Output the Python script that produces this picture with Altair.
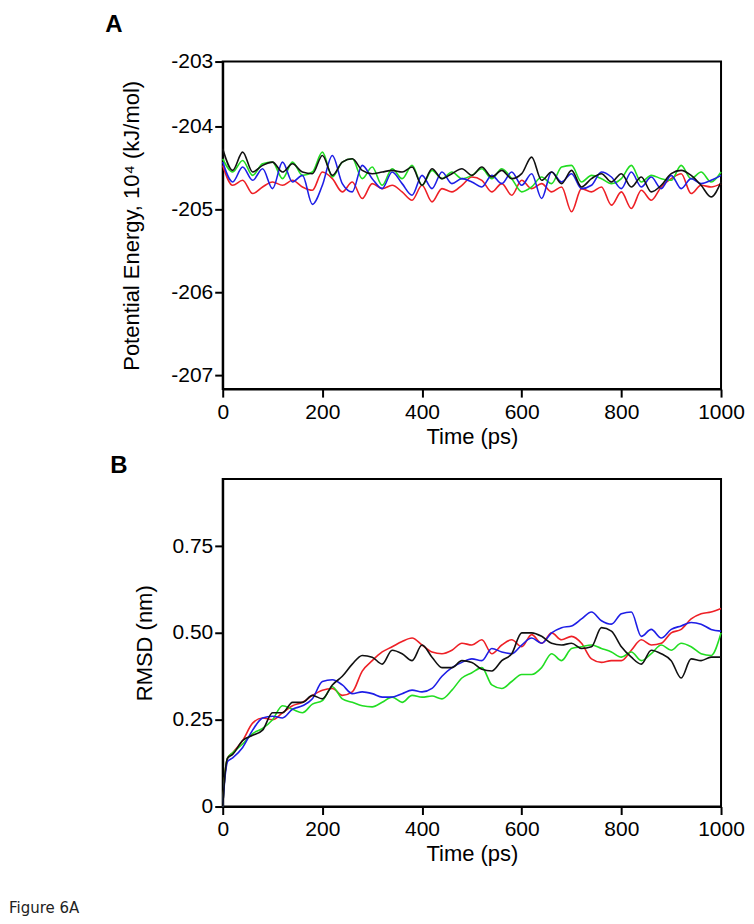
import altair as alt
import pandas as pd

# ---------------- data ----------------
runs = ["red", "green", "blue", "black"]
run_colors = ["#ee2026", "#22dd22", "#1e1ee6", "#111111"]

time_a = list(range(0, 1001, 20))
pe_red = [-204.47, -204.71, -204.65, -204.81, -204.73, -204.67, -204.71, -204.65, -204.73, -204.77,
          -204.55, -204.63, -204.79, -204.67, -204.87, -204.69, -204.75, -204.71, -204.79, -204.89,
          -204.71, -204.91, -204.75, -204.79, -204.71, -204.61, -204.65, -204.79, -204.69, -204.83,
          -204.65, -204.75, -204.69, -204.79, -204.73, -205.03, -204.75, -204.79, -204.73, -204.95,
          -204.79, -204.99, -204.77, -204.89, -204.73, -204.63, -204.57, -204.81, -204.71, -204.73,
          -204.69]
pe_green = [-204.39, -204.55, -204.41, -204.59, -204.45, -204.43, -204.63, -204.43, -204.59, -204.55,
            -204.31, -204.61, -204.43, -204.39, -204.63, -204.49, -204.71, -204.51, -204.63, -204.47,
            -204.71, -204.53, -204.63, -204.55, -204.63, -204.59, -204.51, -204.63, -204.51, -204.63,
            -204.79, -204.73, -204.61, -204.69, -204.49, -204.47, -204.67, -204.59, -204.63, -204.69,
            -204.63, -204.47, -204.67, -204.59, -204.63, -204.65, -204.47, -204.63, -204.55, -204.67,
            -204.55]
pe_blue = [-204.43, -204.67, -204.49, -204.65, -204.51, -204.75, -204.43, -204.67, -204.59, -204.94,
           -204.71, -204.35, -204.69, -204.79, -204.47, -204.63, -204.75, -204.55, -204.69, -204.83,
           -204.59, -204.75, -204.55, -204.69, -204.63, -204.67, -204.73, -204.59, -204.69, -204.55,
           -204.71, -204.57, -204.87, -204.55, -204.67, -204.57, -204.75, -204.71, -204.55, -204.61,
           -204.75, -204.55, -204.73, -204.61, -204.75, -204.59, -204.75, -204.63, -204.69, -204.65,
           -204.59]
pe_black = [-204.27, -204.53, -204.31, -204.55, -204.47, -204.43, -204.55, -204.45, -204.55, -204.57,
            -204.35, -204.59, -204.43, -204.39, -204.53, -204.57, -204.55, -204.53, -204.55, -204.49,
            -204.71, -204.51, -204.63, -204.57, -204.51, -204.59, -204.49, -204.61, -204.53, -204.63,
            -204.57, -204.37, -204.65, -204.55, -204.69, -204.53, -204.73, -204.63, -204.57, -204.67,
            -204.57, -204.73, -204.61, -204.79, -204.71, -204.57, -204.53, -204.59, -204.71, -204.85,
            -204.67]

time_b = [0, 5, 10] + list(range(20, 1001, 20))
rmsd_red = [0, 0.10, 0.14, 0.155, 0.19, 0.24, 0.255, 0.25, 0.27, 0.29, 0.30, 0.32, 0.335,
            0.34, 0.32, 0.33, 0.39, 0.42, 0.445, 0.46, 0.475, 0.485, 0.465,
            0.445, 0.44, 0.45, 0.47, 0.465, 0.48, 0.44, 0.465, 0.48, 0.46,
            0.495, 0.47, 0.50, 0.48, 0.49, 0.47, 0.425, 0.415, 0.42, 0.42,
            0.45, 0.48, 0.465, 0.47, 0.50, 0.51, 0.54, 0.555, 0.56, 0.57]
rmsd_green = [0, 0.10, 0.14, 0.155, 0.18, 0.21, 0.225, 0.25, 0.29, 0.28, 0.27, 0.295, 0.305,
              0.345, 0.31, 0.30, 0.29, 0.287, 0.30, 0.315, 0.30, 0.32, 0.315,
              0.318, 0.31, 0.335, 0.37, 0.385, 0.40, 0.35, 0.34, 0.36, 0.38,
              0.38, 0.40, 0.44, 0.42, 0.455, 0.46, 0.465, 0.455, 0.445, 0.43,
              0.445, 0.42, 0.44, 0.465, 0.45, 0.47, 0.46, 0.44, 0.435, 0.50]
rmsd_blue = [0, 0.09, 0.13, 0.14, 0.17, 0.22, 0.255, 0.26, 0.255, 0.28, 0.29, 0.31, 0.36,
             0.365, 0.35, 0.325, 0.33, 0.325, 0.315, 0.315, 0.325, 0.335, 0.33,
             0.34, 0.375, 0.40, 0.415, 0.425, 0.42, 0.455, 0.445, 0.44, 0.465,
             0.485, 0.47, 0.50, 0.515, 0.52, 0.54, 0.56, 0.535, 0.525, 0.555,
             0.56, 0.49, 0.51, 0.485, 0.51, 0.52, 0.53, 0.525, 0.51, 0.505]
rmsd_black = [0, 0.10, 0.14, 0.15, 0.19, 0.205, 0.22, 0.27, 0.27, 0.30, 0.30, 0.32, 0.31,
              0.35, 0.375, 0.41, 0.435, 0.43, 0.41, 0.45, 0.44, 0.42, 0.465,
              0.43, 0.40, 0.40, 0.42, 0.415, 0.395, 0.39, 0.42, 0.44, 0.50,
              0.50, 0.49, 0.47, 0.465, 0.47, 0.455, 0.46, 0.515, 0.505, 0.46,
              0.43, 0.41, 0.45, 0.44, 0.42, 0.37, 0.425, 0.42, 0.43, 0.43]

x_ticks = [0, 200, 400, 600, 800, 1000]
pe_ticks = [-203, -204, -205, -206, -207]
rmsd_ticks = [0, 0.25, 0.5, 0.75]

# ---------------- tables ----------------
def long_table(times, series):
    rows = []
    for k, (name, vals) in enumerate(zip(runs, series)):
        for t, v in zip(times, vals):
            rows.append({"time": t, "value": v, "run": f"{k}_{name}"})
    return pd.DataFrame(rows)

df_a = long_table(time_a, [pe_red, pe_green, pe_blue, pe_black])
df_b = long_table(time_b, [rmsd_red, rmsd_green, rmsd_blue, rmsd_black])
run_domain = [f"{k}_{n}" for k, n in enumerate(runs)]

W, H = 499, 328
FONT = "Liberation Sans"

color_enc = alt.Color("run:N", scale=alt.Scale(domain=run_domain, range=run_colors), legend=None)

x_enc = alt.X(
    "time:Q",
    scale=alt.Scale(domain=[0, 1000], nice=False),
    axis=alt.Axis(values=x_ticks, format="d", title="Time (ps)", labelFlush=False,
                  labelOverlap=False, labelPadding=4, titlePadding=4),
)

lines_a = alt.Chart(df_a).mark_line(strokeWidth=1.6, interpolate="monotone").encode(
    x=x_enc,
    y=alt.Y(
        "value:Q",
        scale=alt.Scale(domain=[-207.17, -204, -203], range=[H, 65, 0], nice=False, zero=False),
        axis=alt.Axis(values=pe_ticks, title="Potential Energy, 10\u2074 (kJ/mol)",
                      labelExpr="'-' + abs(datum.value)", titleX=-91, titleY=H / 2,
                      titleBaseline="middle", minExtent=214, maxExtent=214, labelOverlap=False),
    ),
    color=color_enc,
)
label_a = alt.Chart(pd.DataFrame({"t": ["A"]})).mark_text(
    font=FONT, fontSize=24, fontWeight="bold", align="center", baseline="middle", color="black"
).encode(x=alt.value(-109), y=alt.value(-37), text="t:N")
panel_a = alt.layer(lines_a, label_a).properties(width=W, height=H)

lines_b = alt.Chart(df_b).mark_line(strokeWidth=1.6, interpolate="monotone").encode(
    x=x_enc,
    y=alt.Y(
        "value:Q",
        scale=alt.Scale(domain=[0, 0.943], nice=False, zero=False),
        axis=alt.Axis(values=rmsd_ticks, title="RMSD (nm)",
                      labelExpr="datum.value == 0 ? '0' : format(datum.value, '.2f')",
                      titleX=-78, titleY=H / 2, titleBaseline="middle",
                      minExtent=214, maxExtent=214, labelOverlap=False),
    ),
    color=color_enc,
)
label_b = alt.Chart(pd.DataFrame({"t": ["B"]})).mark_text(
    font=FONT, fontSize=24, fontWeight="bold", align="center", baseline="middle", color="black"
).encode(x=alt.value(-104), y=alt.value(-13), text="t:N")
fig_note = alt.Chart(pd.DataFrame({"t": ["Figure 6A"]})).mark_text(
    font="DejaVu Sans", fontSize=15, align="left", baseline="middle", color="#222222"
).encode(x=alt.value(-214), y=alt.value(430), text="t:N")
panel_b = alt.layer(lines_b, label_b, fig_note).properties(width=W, height=H)

chart = alt.vconcat(panel_a, panel_b, spacing=90, bounds="flush").properties(
    padding={"top": 3, "left": 0, "right": 0, "bottom": 0}
).configure_view(
    stroke="black", strokeWidth=2
).configure_axis(
    domainColor="black", domainWidth=2, tickColor="black", tickWidth=2, tickSize=8,
    labelFont=FONT, labelFontSize=21, labelColor="black",
    titleFont=FONT, titleFontSize=22, titleFontWeight="normal", titleColor="black",
    grid=False,
)

chart.save("out.html", embed_options={"renderer": "svg", "actions": False})
